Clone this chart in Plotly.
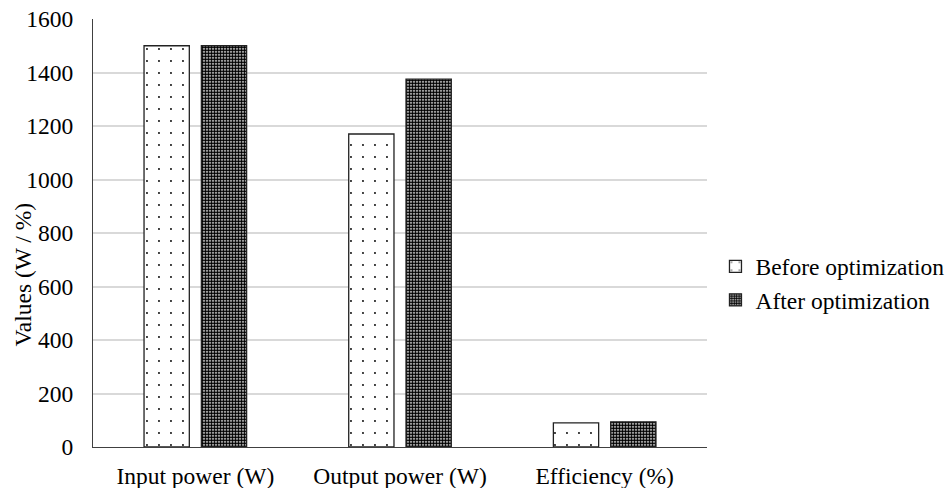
import plotly.graph_objects as go

categories = ["Input power (W)", "Output power (W)", "Efficiency (%)"]
before_values = [1500, 1170, 90]
after_values = [1500, 1375, 94]
series_names = ["Before optimization", "After optimization"]
y_ticks = [0, 200, 400, 600, 800, 1000, 1200, 1400, 1600]
y_title = "Values (W / %)"

FONT = "Liberation Serif"
FS = 23.5

fig = go.Figure()
fig.add_trace(go.Bar(
    x=categories, y=before_values, name=series_names[0],
    marker=dict(color="white", line=dict(color="#222222", width=1.3),
                pattern=dict(shape=".", size=12, solidity=0.02,
                             fgcolor="black", bgcolor="white", fillmode="replace")),
))
fig.add_trace(go.Bar(
    x=categories, y=after_values, name=series_names[1],
    marker=dict(color="white", line=dict(color="#222222", width=1.3),
                pattern=dict(shape=".", size=3, solidity=0.72,
                             fgcolor="black", bgcolor="white", fillmode="replace")),
))

fig.add_annotation(
    text=y_title, textangle=-90, xref="paper", yref="paper",
    x=(22 - 93) / 615, y=(447.5 - 275) / 428, xanchor="center", yanchor="middle",
    showarrow=False, font=dict(family=FONT, size=FS, color="black"),
)

fig.update_layout(
    width=949, height=488,
    margin=dict(l=93, r=242, t=19, b=41, autoexpand=False),
    paper_bgcolor="white", plot_bgcolor="white",
    barmode="group", bargap=0.44, bargroupgap=0.21,
    font=dict(family=FONT, size=FS, color="black"),
    showlegend=True,
    legend=dict(x=1.0138, xanchor="left", y=0.382, yanchor="middle",
                font=dict(family=FONT, size=FS, color="black"),
                bgcolor="rgba(0,0,0,0)", itemwidth=30, tracegroupgap=0),
    xaxis=dict(showgrid=False, showline=True, linecolor="#404040", linewidth=1.3,
               ticks="", ticklabelstandoff=8, tickfont=dict(family=FONT, size=FS),
               automargin=False),
    yaxis=dict(range=[0, 1600], tickvals=y_ticks, showgrid=True,
               gridcolor="#d9d9d9", gridwidth=1.5, showline=True,
               linecolor="#404040", linewidth=1.3, zeroline=False, automargin=False,
               ticks="", ticklabelstandoff=14, tickfont=dict(family=FONT, size=FS)),
)

fig.write_html("out.html")
